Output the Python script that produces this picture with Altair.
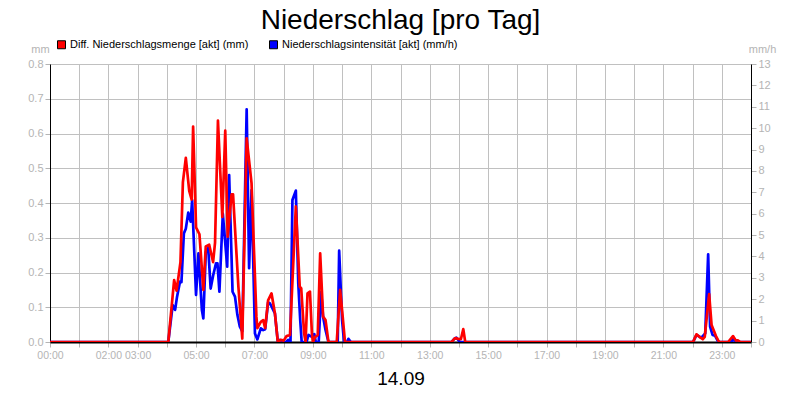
import altair as alt
import pandas as pd

# ---- data (minutes since 00:00, values) ----
red_min = [0, 243, 255, 260, 268, 273, 279, 286, 291, 294, 300, 307, 315, 320, 327, 335, 339, 345, 354, 360,
           365, 373, 376, 387, 395, 404, 414, 424, 426, 433, 438, 442, 448, 455, 462, 468, 474, 480, 486, 493,
           505, 513, 516, 522, 525, 529, 534, 538, 540, 545, 550, 555, 561, 566, 572, 589, 596, 600, 606, 825,
           832, 839, 844, 849, 853, 1321, 1328, 1334, 1341, 1345, 1354, 1359, 1368, 1372, 1375, 1393, 1403, 1409,
           1413, 1418, 1440]
red_val = [0, 0, 0.178, 0.148, 0.23, 0.46, 0.53, 0.435, 0.41, 0.62, 0.33, 0.31, 0.15, 0.275, 0.28, 0.23, 0.285,
           0.637, 0.36, 0.608, 0.303, 0.425, 0.425, 0.159, 0.01, 0.586, 0.457, 0.073, 0.04, 0.058, 0.063, 0.04,
           0.12, 0.14, 0.083, 0, 0.006, 0.004, 0.017, 0.02, 0.39, 0.159, 0.155, 0.025, 0, 0.14, 0.145, 0.025, 0,
           0.015, 0.02, 0.255, 0.073, 0.063, 0, 0, 0.15, 0.092, 0, 0, 0.011, 0.009, 0.008, 0.037, 0, 0, 0.022,
           0.015, 0.008, 0.015, 0.138, 0.049, 0.017, 0.006, 0, 0, 0.017, 0.004, 0.005, 0, 0]

blue_min = [0, 243, 252, 257, 261, 267, 270, 275, 279, 284, 289, 292, 300, 305, 308, 312, 315, 320, 325, 330,
            335, 341, 344, 348, 355, 364, 368, 375, 380, 385, 390, 395, 404, 409, 414, 421, 426, 433, 438, 442,
            448, 452, 462, 468, 472, 476, 485, 489, 494, 498, 505, 510, 514, 517, 527, 531, 537, 543, 546, 552,
            557, 561, 566, 572, 591, 594, 600, 604, 610, 613, 618, 825, 830, 835, 842, 1321, 1328, 1338, 1346,
            1352, 1356, 1361, 1366, 1373, 1400, 1403, 1408, 1440]
blue_val = [0, 0, 1.73, 1.5, 2.12, 2.82, 2.8, 5.08, 5.3, 6.05, 5.63, 6.64, 2.2, 4.15, 3.0, 1.5, 1.1, 4.2, 4.4,
            2.5, 3.1, 3.68, 3.68, 2.35, 6.0, 3.52, 7.81, 2.35, 2.12, 1.26, 0.72, 0.5, 10.88, 3.45, 7.1, 0.4, 0.12,
            0.64, 0.56, 0.6, 1.85, 1.8, 1.34, 0, 0.1, 0, 0, 0.1, 0, 6.64, 7.08, 2.74, 1.03, 0, 0, 0.33, 0.25, 0.37,
            0, 0, 2.35, 1.18, 0.56, 0, 0, 4.27, 1.03, 0, 0, 0.15, 0, 0, 0.14, 0.2, 0, 0, 0.33, 0.2, 0.4, 4.1,
            0.72, 0.33, 0.3, 0, 0, 0.19, 0, 0]

RED_NAME = "Diff. Niederschlagsmenge [akt] (mm)"
BLUE_NAME = "Niederschlagsintensität [akt] (mm/h)"
series_names = [RED_NAME, BLUE_NAME]
series_colors = ["#ff0000", "#0000ff"]

hour_ticks = list(range(0, 1441, 60))
label_hours = [0, 2, 3, 5, 7, 9, 11, 13, 15, 17, 19, 21, 23]
left_ticks = [0, 0.1, 0.2, 0.3, 0.4, 0.5, 0.6, 0.7, 0.8]
right_ticks = list(range(0, 14))

red_df = pd.DataFrame({"t": red_min, "v": red_val})
blue_df = pd.DataFrame({"t": blue_min, "v": blue_val})
legend_df = pd.DataFrame({"s": series_names})

GRAY = "#b4b4b4"
FONT = "Liberation Sans"

label_set = ",".join(str(h * 60) for h in label_hours)
label_expr = (f"indexof([{label_set}], datum.value) >= 0 ? "
              "(datum.value < 600 ? '0' : '') + floor(datum.value / 60) + ':00' : ''")

color_scale = alt.Scale(domain=series_names, range=series_colors)

x_enc = alt.X("t:Q", scale=alt.Scale(domain=[0, 1440], nice=False, zero=False),
              axis=alt.Axis(values=hour_ticks, labelExpr=label_expr, title="14.09",
                            grid=True, gridColor="#c0c0c0", domainColor="black", domainWidth=2,
                            tickColor=GRAY, tickSize=5, labelColor=GRAY, labelFontSize=10.5, labelFont=FONT,
                            labelOverlap=False, labelFlush=False, labelPadding=3,
                            titleFontSize=19, titleFont=FONT, titleFontWeight="normal", titleColor="black",
                            titleY=42, titleBaseline="alphabetic"))

blue_line = alt.Chart(blue_df).mark_line(strokeWidth=2.7, strokeJoin="round", clip=True,
                                         color=series_colors[1]).encode(
    x=x_enc,
    y=alt.Y("v:Q", scale=alt.Scale(domain=[0, 13], nice=False),
            axis=alt.Axis(orient="right", values=right_ticks, format="d", grid=False,
                          domainColor="black", tickColor=GRAY, tickSize=5, labelColor=GRAY,
                          labelFontSize=11, labelFont=FONT, labelPadding=2,
                          title="mm/h", titleAngle=0, titleX=11, titleY=-12, titleAlign="center",
                          titleBaseline="alphabetic", titleColor=GRAY, titleFontSize=11,
                          titleFont=FONT, titleFontWeight="normal")),
)

red_line = alt.Chart(red_df).mark_line(strokeWidth=2.7, strokeJoin="round", clip=True,
                                       color=series_colors[0]).encode(
    x=x_enc,
    y=alt.Y("v:Q", scale=alt.Scale(domain=[0, 0.8], nice=False),
            axis=alt.Axis(orient="left", values=left_ticks, format=".1f", grid=True, gridColor="#c0c0c0",
                          domainColor="black", tickColor=GRAY, tickSize=5, labelColor=GRAY,
                          labelFontSize=11, labelFont=FONT, labelPadding=2,
                          title="mm", titleAngle=0, titleX=-10, titleY=-12, titleAlign="center",
                          titleBaseline="alphabetic", titleColor=GRAY, titleFontSize=11,
                          titleFont=FONT, titleFontWeight="normal")),
)

# legend-only layer (its own marks have no size, only the legend entries are drawn)
legend_layer = alt.Chart(legend_df).mark_square(size=0, filled=True).encode(
    color=alt.Color("s:N", scale=color_scale, sort=series_names,
                    legend=alt.Legend(title=None, orient="none", legendX=6, legendY=-25,
                                      direction="horizontal", columns=2, symbolType="square",
                                      symbolSize=64, symbolStrokeColor="black", symbolStrokeWidth=1,
                                      symbolOpacity=1, labelLimit=400,
                                      labelFontSize=11, labelFont=FONT, labelColor="black",
                                      labelOffset=3, columnPadding=18, padding=0)),
)

chart = alt.layer(blue_line, red_line, legend_layer).resolve_scale(y="independent").properties(
    width=701, height=278,
    title=alt.Title("Niederschlag [pro Tag]", fontSize=28, font=FONT, fontWeight="normal",
                    color="black", anchor="middle", offset=4),
    autosize=alt.AutoSizeParams(type="none"),
    padding={"left": 42, "top": 56, "right": 41, "bottom": 50},
).configure_view(stroke="black", strokeWidth=1).configure(background="white")

chart.save("out.html", embed_options={"renderer": "svg", "actions": False})
